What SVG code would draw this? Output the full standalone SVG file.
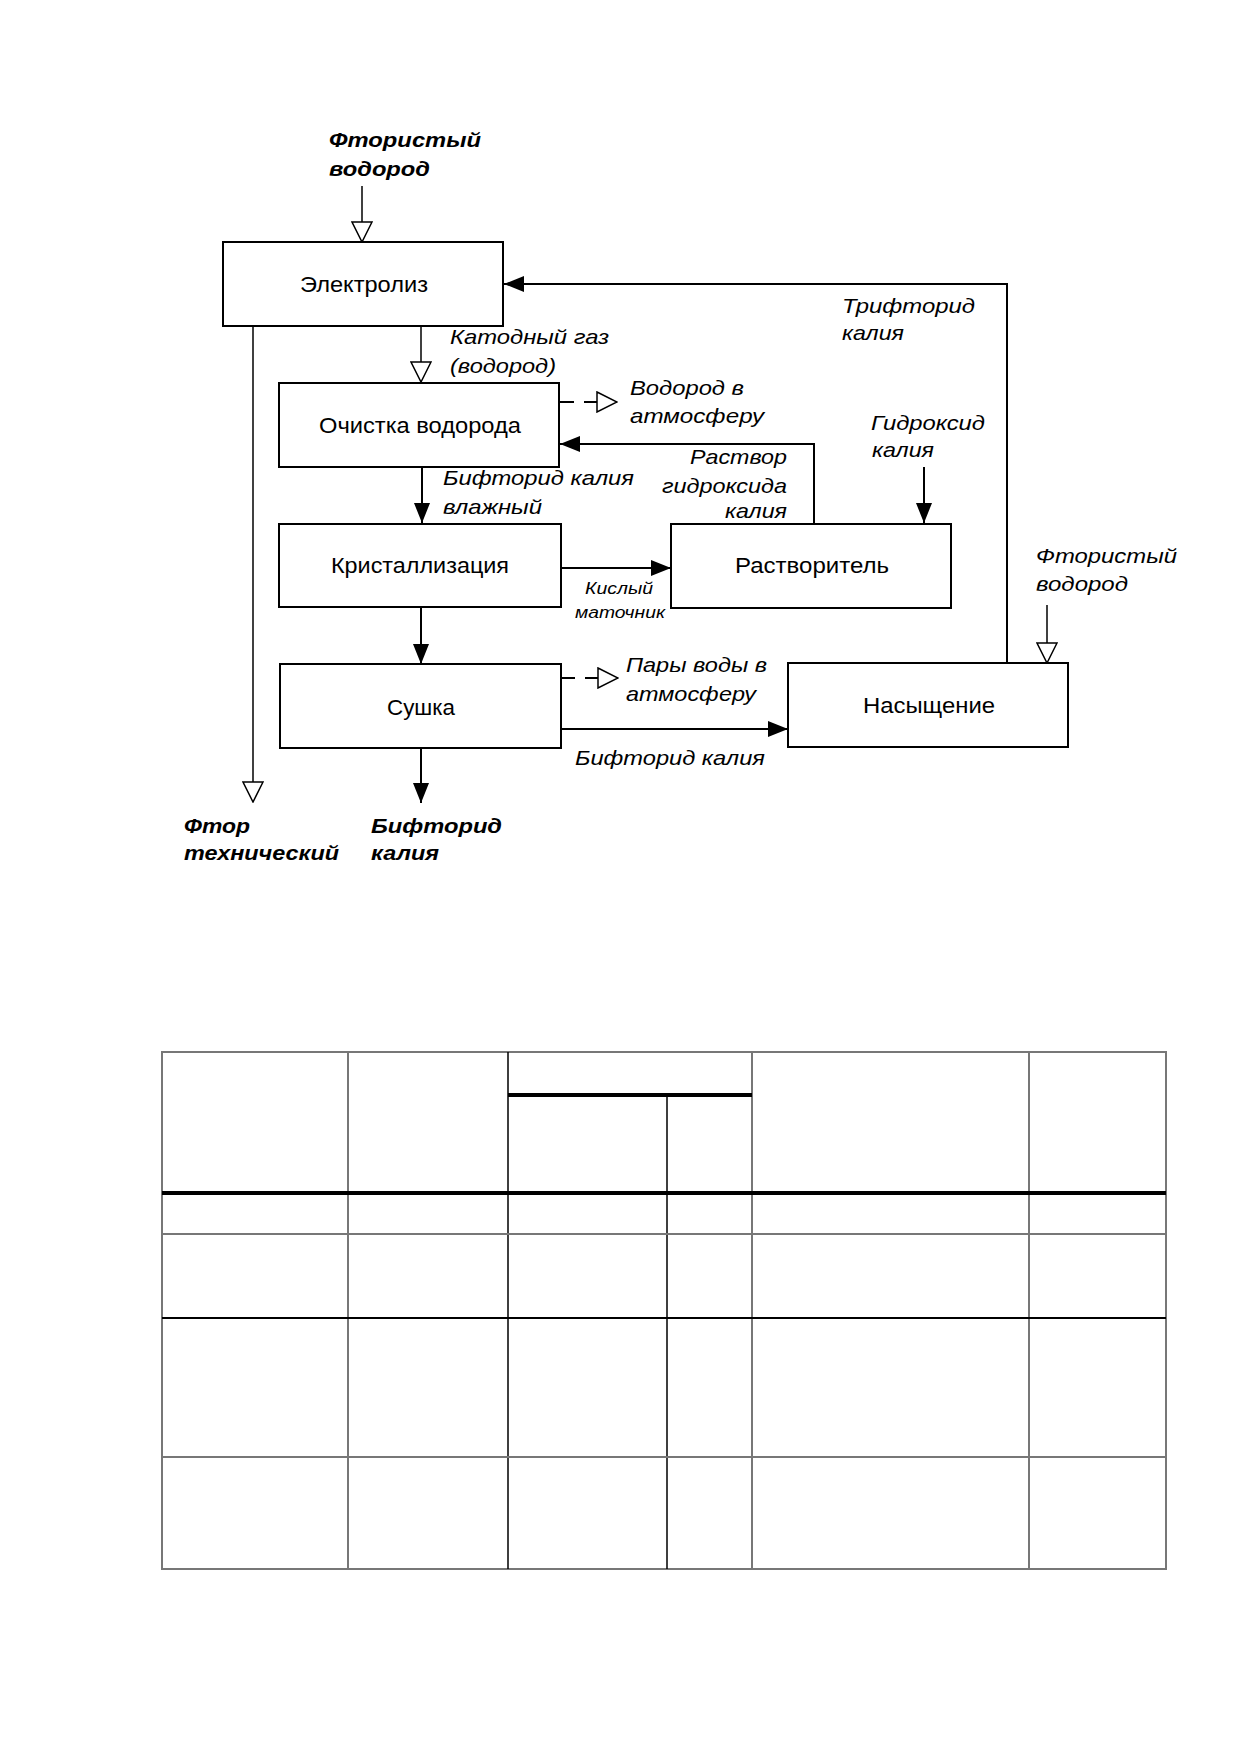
<svg xmlns="http://www.w3.org/2000/svg" width="1241" height="1754" viewBox="0 0 1241 1754">
<style>
.box{fill:#fff;stroke:#000;stroke-width:2}
.bt{font-family:"Liberation Sans",Arial,sans-serif;font-size:22px;text-anchor:middle;fill:#000}
.lb{font-family:"Liberation Sans",Arial,sans-serif;font-size:21px;font-style:italic;fill:#000}
.sm{font-family:"Liberation Sans",Arial,sans-serif;font-size:16px;font-style:italic;fill:#000;text-anchor:middle}
.bl{font-family:"Liberation Sans",Arial,sans-serif;font-size:21px;font-style:italic;font-weight:bold;fill:#000}
.c{fill:none;stroke:#000;stroke-width:2}
.cf{fill:none;stroke:#000;stroke-width:2;marker-end:url(#af)}
.co{fill:none;stroke:#000;stroke-width:1.5;marker-end:url(#ao)}
.cd{fill:none;stroke:#000;stroke-width:2;stroke-dasharray:14 10;marker-end:url(#ao)}
.tg{stroke:#777;stroke-width:2;fill:none}
.tk{stroke:#000;stroke-width:1.5;fill:none}
</style>
<defs>
<marker id="af" viewBox="0 0 20 16" refX="20" refY="8" markerWidth="20" markerHeight="16" markerUnits="userSpaceOnUse" orient="auto">
<path d="M0,0 L20,8 L0,16 z" fill="#000" stroke="none"/>
</marker>
<marker id="ao" viewBox="0 0 22 22" refX="21" refY="11" markerWidth="22" markerHeight="22" markerUnits="userSpaceOnUse" orient="auto">
<path d="M1,1 L21,11 L1,21 z" fill="#fff" stroke="#000" stroke-width="1.5" stroke-dasharray="none"/>
</marker>
</defs>
<rect width="1241" height="1754" fill="#fff"/>

<g id="connectors">
<path class="co" d="M362,186 V242"/>
<path class="co" d="M253,326 V802"/>
<path class="co" d="M421,326 V382"/>
<path class="cd" d="M560,402 H617"/>
<path class="cf" d="M814,524 V444 H560"/>
<path class="cf" d="M924,467 V523"/>
<path class="cf" d="M1007,663 V284 H504"/>
<path class="cf" d="M422,467 V523"/>
<path class="cf" d="M561,568 H671"/>
<path class="cf" d="M421,607 V664"/>
<path class="cf" d="M421,748 V803"/>
<path class="cd" d="M561,678 H618"/>
<path class="cf" d="M561,729 H788"/>
<path class="co" d="M1047,605 V663"/>
</g>

<g id="n-electrolysis"><rect class="box" x="223" y="242" width="280" height="84"/><text class="bt" x="364" y="292" textLength="128" lengthAdjust="spacingAndGlyphs">Электролиз</text></g>
<g id="n-purification"><rect class="box" x="279" y="383" width="280" height="84"/><text class="bt" x="420" y="433" textLength="202" lengthAdjust="spacingAndGlyphs">Очистка водорода</text></g>
<g id="n-crystallization"><rect class="box" x="279" y="524" width="282" height="83"/><text class="bt" x="420" y="573" textLength="178" lengthAdjust="spacingAndGlyphs">Кристаллизация</text></g>
<g id="n-drying"><rect class="box" x="280" y="664" width="281" height="84"/><text class="bt" x="421" y="715" textLength="68" lengthAdjust="spacingAndGlyphs">Сушка</text></g>
<g id="n-dissolver"><rect class="box" x="671" y="524" width="280" height="84"/><text class="bt" x="812" y="573" textLength="154" lengthAdjust="spacingAndGlyphs">Растворитель</text></g>
<g id="n-saturation"><rect class="box" x="788" y="663" width="280" height="84"/><text class="bt" x="929" y="713" textLength="132" lengthAdjust="spacingAndGlyphs">Насыщение</text></g>

<g id="labels">
<text class="bl" x="329" y="147" textLength="152" lengthAdjust="spacingAndGlyphs">Фтористый</text>
<text class="bl" x="329" y="176" textLength="101" lengthAdjust="spacingAndGlyphs">водород</text>
<text class="lb" x="450" y="344" textLength="159" lengthAdjust="spacingAndGlyphs">Катодный газ</text>
<text class="lb" x="450" y="373" textLength="106" lengthAdjust="spacingAndGlyphs">(водород)</text>
<text class="lb" x="630" y="395" textLength="114" lengthAdjust="spacingAndGlyphs">Водород в</text>
<text class="lb" x="630" y="423" textLength="134" lengthAdjust="spacingAndGlyphs">атмосферу</text>
<text class="lb" x="842" y="313" textLength="133" lengthAdjust="spacingAndGlyphs">Трифторид</text>
<text class="lb" x="842" y="340" textLength="62" lengthAdjust="spacingAndGlyphs">калия</text>
<text class="lb" x="871" y="430" textLength="114" lengthAdjust="spacingAndGlyphs">Гидроксид</text>
<text class="lb" x="872" y="457" textLength="62" lengthAdjust="spacingAndGlyphs">калия</text>
<text class="lb" x="690" y="464" textLength="97" lengthAdjust="spacingAndGlyphs">Раствор</text>
<text class="lb" x="662" y="493" textLength="125" lengthAdjust="spacingAndGlyphs">гидроксида</text>
<text class="lb" x="725" y="518" textLength="62" lengthAdjust="spacingAndGlyphs">калия</text>
<text class="lb" x="443" y="485" textLength="191" lengthAdjust="spacingAndGlyphs">Бифторид калия</text>
<text class="lb" x="443" y="514" textLength="99" lengthAdjust="spacingAndGlyphs">влажный</text>
<text class="sm" x="619" y="594" textLength="68" lengthAdjust="spacingAndGlyphs">Кислый</text>
<text class="sm" x="620" y="618" textLength="90" lengthAdjust="spacingAndGlyphs">маточник</text>
<text class="lb" x="626" y="672" textLength="141" lengthAdjust="spacingAndGlyphs">Пары воды в</text>
<text class="lb" x="626" y="701" textLength="130" lengthAdjust="spacingAndGlyphs">атмосферу</text>
<text class="lb" x="575" y="765" textLength="190" lengthAdjust="spacingAndGlyphs">Бифторид калия</text>
<text class="lb" x="1036" y="563" textLength="141" lengthAdjust="spacingAndGlyphs">Фтористый</text>
<text class="lb" x="1036" y="591" textLength="92" lengthAdjust="spacingAndGlyphs">водород</text>
<text class="bl" x="184" y="833" textLength="66" lengthAdjust="spacingAndGlyphs">Фтор</text>
<text class="bl" x="184" y="860" textLength="155" lengthAdjust="spacingAndGlyphs">технический</text>
<text class="bl" x="371" y="833" textLength="131" lengthAdjust="spacingAndGlyphs">Бифторид</text>
<text class="bl" x="371" y="860" textLength="68" lengthAdjust="spacingAndGlyphs">калия</text>
</g>

<g id="table">
<rect class="tg" x="162" y="1052" width="1004" height="517"/>
<path class="tg" d="M348,1052 V1569 M752,1052 V1569 M1029,1052 V1569"/>
<path class="tk" d="M508,1052 V1569 M667,1097 V1569"/>
<path d="M508,1095 H752" stroke="#000" stroke-width="4"/>
<path d="M162,1193 H1166" stroke="#000" stroke-width="4"/>
<path class="tg" d="M162,1234 H1166 M162,1457 H1166"/>
<path d="M162,1318 H1166" stroke="#000" stroke-width="2"/>
</g>
</svg>
